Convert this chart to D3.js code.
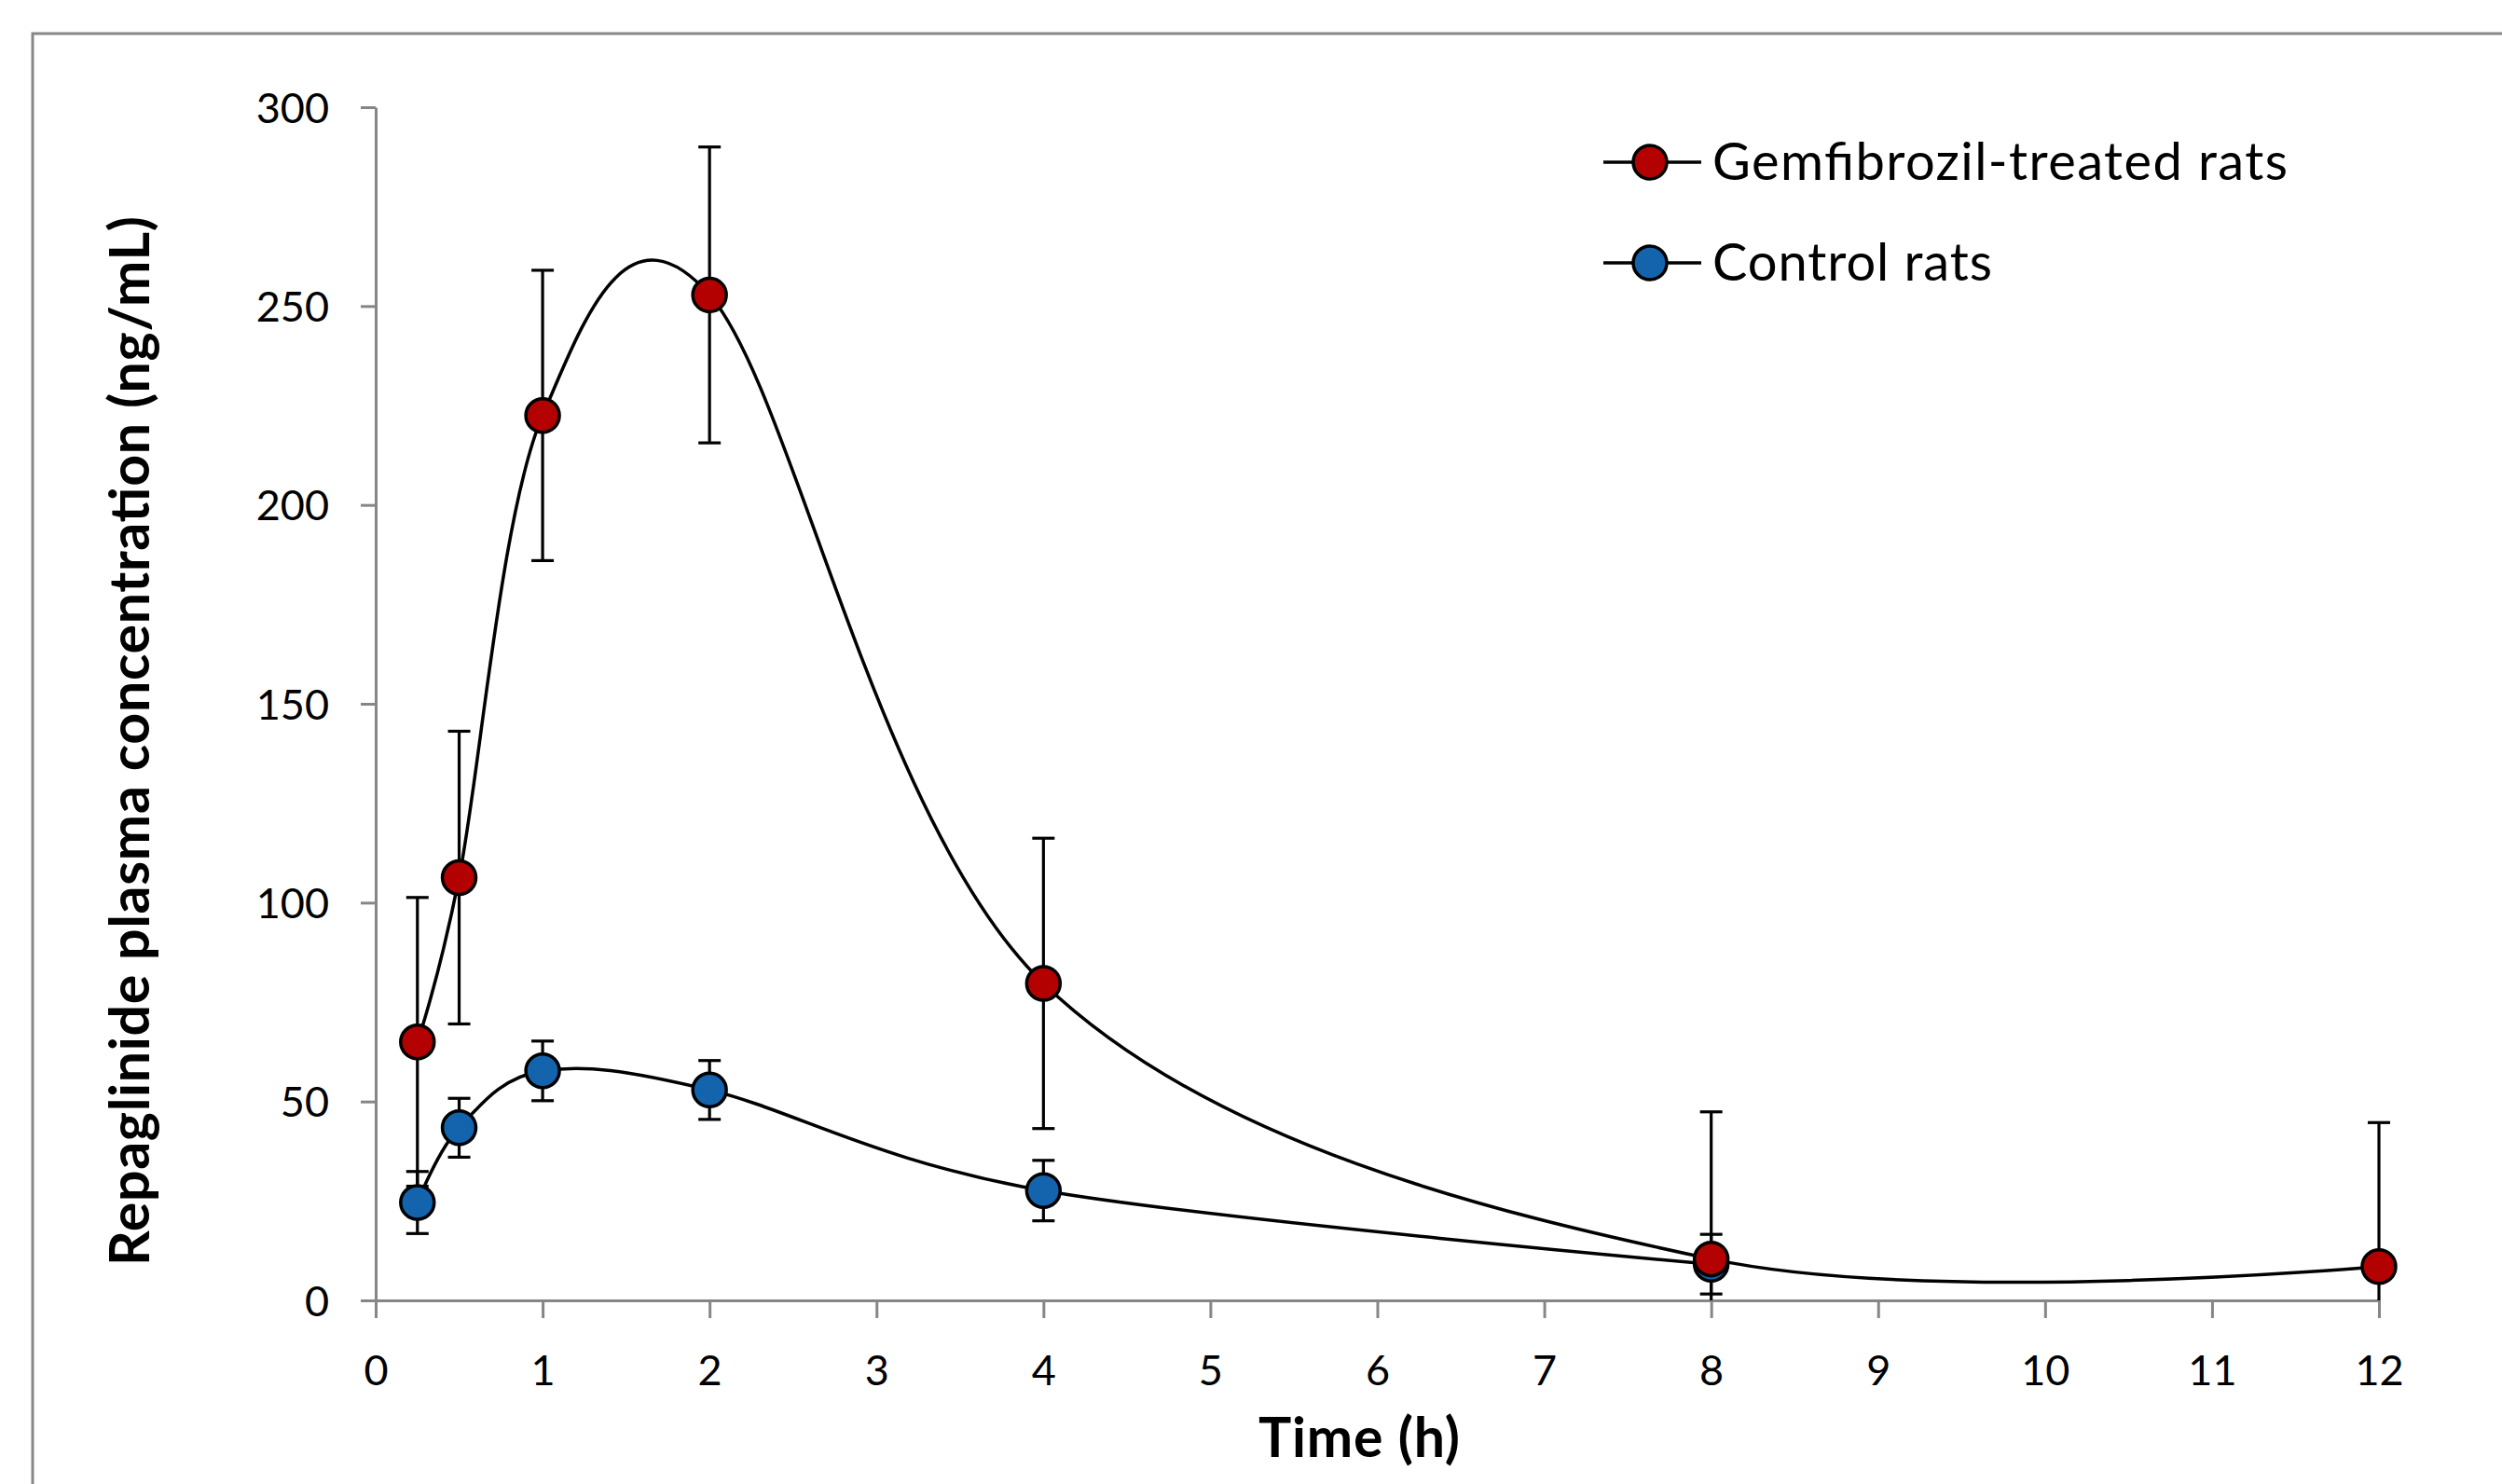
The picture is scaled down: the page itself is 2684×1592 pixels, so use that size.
<!DOCTYPE html>
<html>
<head>
<meta charset="utf-8">
<script src="https://cdnjs.cloudflare.com/ajax/libs/d3/7.8.5/d3.min.js"></script>
<style>
  body { margin: 0; background: #fff; }
  svg { display: block; }
  text { font-family: Lato, "Open Sans", sans-serif; fill: #000; }
</style>
</head>
<body>
<div id="container"></div>
<script>
// sampling times (h)
var times = [0.25, 0.5, 1, 2, 4, 8, 12];
var controlTimes = [0.25, 0.5, 1, 2, 4, 8];

// repaglinide plasma concentration (ng/mL), mean and SD
var gemfibrozilMean = [65.0, 106.3, 222.5, 252.8, 79.7, 10.4, 8.5];
var gemfibrozilSD = [36.3, 36.8, 36.5, 37.2, 36.5, 37.0, 36.2];
var controlMean = [24.6, 43.4, 57.7, 52.9, 27.6, 9.1];
var controlSD = [7.8, 7.4, 7.5, 7.4, 7.6, 7.5];

var seriesNames = ["Gemfibrozil-treated rats", "Control rats"];
var seriesColors = ["#b30000", "#1363ad"];

var xTicks = d3.range(0, 13, 1);
var yTicks = [0, 50, 100, 150, 200, 250, 300];

var width = 2684;
var height = 1592;
var margin = {top: 115, right: 132, bottom: 197, left: 403};

var svg = d3.select("#container").append("svg")
  .attr("width", width)
  .attr("height", height);

// outer chart frame (runs off the right and bottom edge)
svg.append("rect")
  .attr("x", 35)
  .attr("y", 36)
  .attr("width", width)
  .attr("height", height)
  .style("fill", "none")
  .style("stroke", "#878787")
  .style("stroke-width", 3);

var x = d3.scaleLinear().domain([0, 12]).range([margin.left, width - margin.right]);
var y = d3.scaleLinear().domain([0, 300]).range([height - margin.bottom, margin.top]);

var gx = svg.append("g")
  .attr("transform", "translate(0," + y(0) + ")")
  .call(d3.axisBottom(x).tickValues(xTicks).tickSize(19).tickSizeOuter(0));

var gy = svg.append("g")
  .attr("transform", "translate(" + x(0) + ",0)")
  .call(d3.axisLeft(y).tickValues(yTicks).tickSize(16).tickSizeOuter(0).tickPadding(34));

[gx, gy].forEach(function(g) {
  g.select(".domain").style("stroke", "#868686").style("stroke-width", 3);
  g.selectAll(".tick line").style("stroke", "#868686").style("stroke-width", 3);
  g.selectAll(".tick text").style("font-size", "45px").style("fill", "#000");
});
gx.selectAll(".tick text").attr("y", 91).attr("dy", 0);
gy.selectAll(".tick text").attr("dy", "0.36em");

// axis titles
svg.append("text")
  .attr("x", 1458)
  .attr("y", 1563)
  .attr("text-anchor", "middle")
  .attr("textLength", 216)
  .attr("lengthAdjust", "spacing")
  .style("font-size", "59px")
  .style("font-weight", "bold")
  .text("Time (h)");

svg.append("text")
  .attr("transform", "translate(160," + 795 + ") rotate(-90)")
  .attr("text-anchor", "middle")
  .attr("textLength", 1126)
  .attr("lengthAdjust", "spacing")
  .style("font-size", "59px")
  .style("font-weight", "bold")
  .text("Repaglinide plasma concentration (ng/mL)");

var series = [
  {name: seriesNames[0], color: seriesColors[0], pts: times.map(function(t, i) { return {t: t, m: gemfibrozilMean[i], sd: gemfibrozilSD[i]}; })},
  {name: seriesNames[1], color: seriesColors[1], pts: controlTimes.map(function(t, i) { return {t: t, m: controlMean[i], sd: controlSD[i]}; })}
];

// excel style smoothed line
var line = d3.line()
  .x(function(d) { return x(d.t); })
  .y(function(d) { return y(d.m); })
  .curve(d3.curveCardinal.tension(0));

svg.append("g").selectAll("path")
  .data(series)
  .enter().append("path")
  .attr("d", function(s) { return line(s.pts); })
  .style("fill", "none")
  .style("stroke", "#000")
  .style("stroke-width", 3.5);

// error bars, clipped at zero
var capW = 12;
series.forEach(function(s) {
  var eb = svg.append("g").selectAll("g")
    .data(s.pts)
    .enter().append("g")
    .style("stroke", "#000")
    .style("stroke-width", 3.2);
  eb.append("line")
    .attr("x1", function(d) { return x(d.t); })
    .attr("x2", function(d) { return x(d.t); })
    .attr("y1", function(d) { return y(d.m + d.sd); })
    .attr("y2", function(d) { return y(Math.max(0, d.m - d.sd)); });
  eb.append("line")
    .attr("x1", function(d) { return x(d.t) - capW; })
    .attr("x2", function(d) { return x(d.t) + capW; })
    .attr("y1", function(d) { return y(d.m + d.sd); })
    .attr("y2", function(d) { return y(d.m + d.sd); });
  eb.filter(function(d) { return d.m - d.sd > 0; })
    .append("line")
    .attr("x1", function(d) { return x(d.t) - capW; })
    .attr("x2", function(d) { return x(d.t) + capW; })
    .attr("y1", function(d) { return y(d.m - d.sd); })
    .attr("y2", function(d) { return y(d.m - d.sd); });
});

// markers: control first so the gemfibrozil dots sit on top
[series[1], series[0]].forEach(function(s) {
  svg.append("g").selectAll("circle")
    .data(s.pts)
    .enter().append("circle")
    .attr("cx", function(d) { return x(d.t); })
    .attr("cy", function(d) { return y(d.m); })
    .attr("r", 18)
    .style("fill", s.color)
    .style("stroke", "#000")
    .style("stroke-width", 3.5);
});

// legend
var legendWidths = [617, 300];
var legend = svg.append("g").attr("transform", "translate(1720,174)");
var item = legend.selectAll("g")
  .data(series)
  .enter().append("g")
  .attr("transform", function(d, i) { return "translate(0," + (i * 108) + ")"; });
item.append("line")
  .attr("x1", 0).attr("x2", 105)
  .style("stroke", "#000")
  .style("stroke-width", 3.5);
item.append("circle")
  .attr("cx", 50)
  .attr("r", 18)
  .style("fill", function(d) { return d.color; })
  .style("stroke", "#000")
  .style("stroke-width", 3.5);
item.append("text")
  .attr("x", 117)
  .attr("y", 19)
  .attr("textLength", function(d, i) { return legendWidths[i]; })
  .attr("lengthAdjust", "spacing")
  .style("font-size", "56px")
  .text(function(d) { return d.name; });
</script>
</body>
</html>
